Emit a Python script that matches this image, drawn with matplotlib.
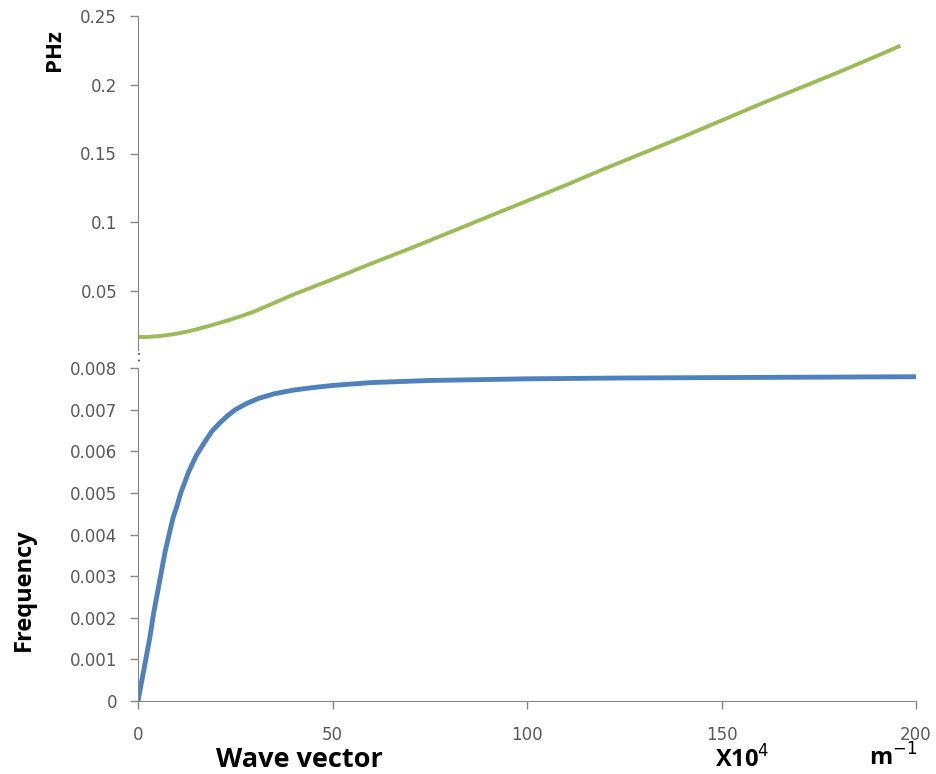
import numpy as np
import matplotlib
matplotlib.use('Agg')
import matplotlib.pyplot as plt
from matplotlib.lines import Line2D

# ---- data ----
k_phz = [0, 2.5, 5, 7.5, 10, 12.5, 15, 17.5, 20, 22.5, 25, 27.5, 30, 35, 40,
         50, 60, 70, 80, 90, 100, 110, 120, 130, 140, 150, 160, 170, 180, 190, 196]
phz = [0.0165, 0.0166, 0.0171, 0.0179, 0.0190, 0.0204, 0.0221, 0.0240, 0.0260,
       0.0281, 0.0303, 0.0327, 0.0352, 0.0413, 0.0475,
       0.0585, 0.0700, 0.0810, 0.0925, 0.1040, 0.1155, 0.1270, 0.1390, 0.1505,
       0.1620, 0.1740, 0.1860, 0.1975, 0.2090, 0.2210, 0.2284]

k_freq = [0, 1, 2, 3, 4, 5, 6, 7, 8, 9, 10, 11, 12, 13, 14, 15, 17, 19, 21,
          23, 25, 28, 31, 35, 40, 45, 50, 60, 75, 100, 125, 150, 175, 200]
freq = [0.0, 0.0005, 0.0010, 0.0015, 0.0021, 0.0026, 0.0031, 0.0036, 0.0040,
        0.0044, 0.00468, 0.0050, 0.00525, 0.0055, 0.0057, 0.0059, 0.0062,
        0.00648, 0.00668, 0.00685, 0.0070, 0.00715, 0.00727, 0.00738, 0.00747,
        0.00753, 0.00758, 0.00765, 0.00770, 0.00774, 0.00776, 0.00777,
        0.00778, 0.00779]

top_ticks = [0.05, 0.1, 0.15, 0.2, 0.25]
top_labels = ['0.05', '0.1', '0.15', '0.2', '0.25']
bot_ticks = [0, 0.001, 0.002, 0.003, 0.004, 0.005, 0.006, 0.007, 0.008]
bot_labels = ['0', '0.001', '0.002', '0.003', '0.004', '0.005', '0.006', '0.007', '0.008']
x_ticks = [0, 50, 100, 150, 200]

green = '#9BBB59'
blue = '#4F81BD'
axcol = '#868686'
txtcol = '#595959'

fig = plt.figure(figsize=(9.36, 7.74), dpi=100)
L, R = 138/936, 916/936
ax1 = fig.add_axes([L, 1-350/774, R-L, (350-16)/774])
ax2 = fig.add_axes([L, 1-701/774, R-L, (701-368)/774])

ax1.plot(k_phz, phz, color=green, lw=2.8, solid_capstyle='butt')
ax1.set_xlim(0, 200)
ax1.set_ylim(0.25 - 334/1375, 0.25)
ax1.set_yticks(top_ticks)
ax1.set_yticklabels(top_labels)
ax1.set_xticks([])

ax2.plot(k_freq, freq, color=blue, lw=3.5, solid_capstyle='butt')
ax2.set_xlim(0, 200)
ax2.set_ylim(0, 0.008)
ax2.set_yticks(bot_ticks)
ax2.set_yticklabels(bot_labels)
ax2.set_xticks(x_ticks)

for ax in (ax1, ax2):
    for s in ('top', 'right'):
        ax.spines[s].set_visible(False)
    ax.spines['left'].set_color(axcol)
    ax.spines['bottom'].set_color(axcol)
    ax.tick_params(axis='both', colors=axcol, labelcolor=txtcol,
                   labelsize=12, length=6, width=1, direction='out', pad=9)
ax1.spines['bottom'].set_visible(False)
ax2.tick_params(axis='x', pad=12)

# axis break dots
fig.add_artist(Line2D([L+0.5/936, L+0.5/936], [1-353/774, 1-364/774],
                      color='#333333', lw=1.2, ls=(0, (1, 3))))

fig.text(55/936, 1-50/774, 'PHz', rotation=90, fontsize=16, fontweight='bold',
         family='Open Sans', ha='center', va='center')
fig.text(24/936, 1-590/774, 'Frequency', rotation=90, fontsize=17, fontweight='bold',
         family='Open Sans', ha='center', va='center')
fig.text(299/936, 1-760/774, 'Wave vector', fontsize=19.5, fontweight='bold',
         family='Open Sans', ha='center', va='center')
fig.text(742/936, 1-760/774, r'X10$^{4}$', fontsize=17, fontweight='bold',
         family='Open Sans', ha='center', va='center')
fig.text(893/936, 1-758/774, r'm$^{-1}$', fontsize=17, fontweight='bold',
         family='Open Sans', ha='center', va='center')

fig.savefig('out.png', dpi=100)
